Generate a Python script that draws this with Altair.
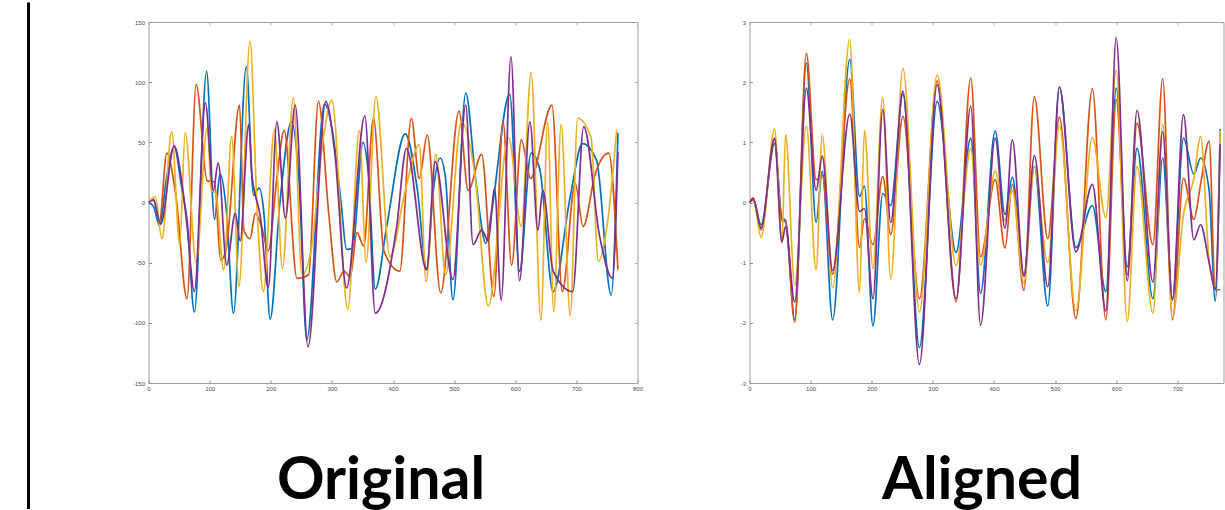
import altair as alt
import pandas as pd

COLORS = ["#0072BD", "#D95319", "#EDB120", "#7E2F8E"]
SERIES = ["s1", "s2", "s3", "s4"]
TITLES = ["Original", "Aligned"]

# ---------------- Original (left) ----------------
o_blue_x = [0, 8, 18, 30, 42, 55, 63, 75, 95, 108, 117, 128, 139, 160, 172, 181, 189, 199, 215, 234, 246, 259, 288, 302, 315, 324, 334, 351, 360, 371, 390, 420, 440, 455, 466, 477, 486, 498, 519, 535, 552, 561, 591, 607, 626, 640, 662, 690, 710, 733, 757, 768]
o_blue_y = [0, -3, -19, 22, 46, 10, -14, -91, 109, -14, 24, -10, -92, 113, 6, 12, -10, -97, 0, 67, 20, -114, 82, 56, 0, -39, -38, 50, 22, -72, -19, 57, 10, -55, 10, 37, 20, -81, 91, 20, -34, -9, 90, -57, 41, 28, -74, 5, 49, 35, -77, 58]

o_orange_x = [0, 8, 18, 30, 45, 63, 78, 96, 108, 118, 127, 149, 156, 166, 175, 185, 196, 210, 222, 243, 262, 278, 295, 308, 320, 330, 341, 352, 368, 385, 411, 430, 443, 456, 478, 508, 523, 545, 565, 580, 594, 610, 625, 660, 677, 698, 711, 731, 753, 768]
o_orange_y = [0, 3, -15, 41, 5, -80, 98, 18, 17, -48, -39, 81, -23, -30, -9, -20, -40, 20, 60, -63, -60, 84, -10, -66, -57, -62, -25, -36, 70, -40, -57, 70, 20, 56, -75, 76, 10, 40, -78, 67, -52, 52, 20, 81, -74, 16, -20, 24, 41, -56]

o_yellow_x = [0, 11, 22, 38, 51, 60, 78, 96, 103, 110, 123, 136, 148, 166, 178, 188, 206, 219, 237, 251, 266, 285, 300, 326, 345, 356, 372, 395, 420, 443, 454, 470, 486, 512, 534, 556, 589, 610, 626, 642, 653, 663, 675, 690, 702, 724, 736, 750, 766]
o_yellow_y = [0, 5, -30, 59, -35, 58, -50, 62, 10, 8, -56, 55, -70, 134, -10, -74, 61, -55, 87, -60, -40, 50, 85, -89, 60, -50, 88, -45, 10, 48, -66, 40, -60, 67, 23, -86, 54, -20, 108, -98, 67, -91, 65, -94, 70, 54, -49, -20, 60]

o_purple_x = [0, 8, 20, 42, 55, 63, 75, 93, 106, 114, 128, 142, 150, 164, 169, 183, 196, 210, 224, 240, 261, 290, 305, 324, 354, 371, 406, 422, 455, 469, 498, 519, 531, 545, 556, 566, 577, 593, 607, 624, 637, 645, 662, 694, 712, 738, 759, 768]
o_purple_y = [0, 2, -18, 47, 15, -19, -74, 83, 10, 33, -52, -9, -32, 65, 24, -12, -71, 67, -13, 81, -120, 84, 40, -71, 72, -92, -20, 45, -56, 34, -64, 81, -35, -23, -32, 12, -81, 121, -65, 67, -23, 10, -57, -74, 63, -28, -63, 42]

# ---------------- Aligned (right) ----------------
a_x = [0, 6, 19, 41, 53, 59, 74, 93, 109, 119, 136, 164, 180, 188, 202, 218, 231, 251, 278, 307, 338, 362, 378, 402, 418, 430, 449, 466, 488, 507, 534, 561, 583, 600, 618, 634, 660, 676, 692, 710, 727, 738, 752, 762, 770]
a_blue_y = [0, 0.06, -0.37, 0.98, -0.25, -0.3, -1.95, 2.32, -0.33, 0.52, -1.95, 2.38, 0.1, 0.27, -2.05, 0.15, -0.05, 1.8, -2.41, 1.68, -0.83, 1.07, -1.51, 1.19, -0.2, 0.42, -1.2, 0.6, -1.72, 1.92, -0.75, -0.05, -1.48, 1.9, -1.07, 0.9, -1.6, 0.74, -1.6, 1.07, 0.47, 0.74, 0.2, -1.64, 1.22]
a_orange_y = [0, 0.04, -0.45, 1.05, -0.3, -0.32, -1.99, 2.48, 0.38, 0.45, -1.19, 2.05, -0.75, -0.27, -0.7, 0.43, -0.53, 1.43, -1.6, 2.02, -1.65, 2.07, -0.9, 0.38, -0.76, 0.3, -1.46, 1.76, -0.6, 1.42, -1.93, 1.89, -1.95, 1.71, -1.2, 1.32, -0.7, 2.06, -1.95, 0.4, -0.28, 0.3, 1.02, -1.45, -1.45]
a_yellow_y = [0, 0.08, -0.58, 1.22, -0.68, 1.13, -1.37, 1.27, -1.12, 1.12, -1.42, 2.71, -1.5, 1.2, -1.1, 1.75, -1.27, 2.23, -1.82, 2.12, -1.05, 0.9, -1.04, 0.52, -0.3, 0.2, -1.34, 0.6, -1.0, 1.28, -1.8, 1.08, -0.25, 2.2, -1.98, 0.6, -1.84, 1.3, -1.92, -0.2, 0.4, 1.1, -0.98, -1.4, 1.2]
a_purple_y = [0, 0.07, -0.42, 1.07, -0.65, -0.4, -1.66, 1.9, 0.2, 0.77, -1.13, 1.47, -0.15, -0.1, -1.6, 1.55, -0.33, 1.85, -2.69, 1.96, -1.6, 1.6, -2.04, 1.07, -0.43, 1.04, -1.23, 0.78, -1.4, 1.92, -0.82, 0.3, -1.8, 2.74, -1.3, 1.53, -1.32, 1.18, -1.62, 1.46, -0.62, -0.37, -1.0, -1.44, 0.97]

O_XTICKS = [0, 100, 200, 300, 400, 500, 600, 700, 800]
O_YTICKS = [-150, -100, -50, 0, 50, 100, 150]
A_XTICKS = [0, 100, 200, 300, 400, 500, 600, 700]
A_YTICKS = [-3, -2, -1, 0, 1, 2, 3]


def frame(parts):
    rows = []
    for name, xs, ys in parts:
        for i, (xv, yv) in enumerate(zip(xs, ys)):
            rows.append({"t": xv, "v": yv, "series": name, "i": i})
    return pd.DataFrame(rows)


orig_df = frame([
    ("s1", o_blue_x, o_blue_y),
    ("s2", o_orange_x, o_orange_y),
    ("s3", o_yellow_x, o_yellow_y),
    ("s4", o_purple_x, o_purple_y),
])
alig_df = frame([
    ("s1", a_x, a_blue_y),
    ("s2", a_x, a_orange_y),
    ("s3", a_x, a_yellow_y),
    ("s4", a_x, a_purple_y),
])

AX_COLOR = "#8c8c8c"
LBL = dict(labelFontSize=6, labelColor="#4d4d4d", labelFont="Liberation Sans")


def panel(df, xdom, ydom, xticks, yticks, w, h, title, rule_opacity, rule_x, with_right):
    xs = alt.Scale(domain=xdom, nice=False, zero=False)
    ys = alt.Scale(domain=ydom, nice=False, zero=False)
    color = alt.Color("series:N", scale=alt.Scale(domain=SERIES, range=COLORS), legend=None)
    lines = alt.Chart(df).mark_line(interpolate="monotone", strokeWidth=1.7, clip=True).encode(
        x=alt.X("t:Q", scale=xs, axis=alt.Axis(orient="bottom", values=xticks, domain=False, grid=False,
                                               tickSize=3, tickColor=AX_COLOR, offset=-3, labelPadding=2,
                                               labelFlush=False, labelExpr="'' + datum.value", title=None, **LBL)),
        y=alt.Y("v:Q", scale=ys, axis=alt.Axis(orient="left", values=yticks, domain=False, grid=False,
                                               tickSize=3, tickColor=AX_COLOR, offset=-3, labelPadding=4,
                                               labelFlush=False, labelExpr="'' + datum.value", title=None, **LBL)),
        color=color,
        order="i:Q",
    )
    yaxis2 = alt.Axis(orient="right", values=yticks, domain=False, grid=False, labels=False,
                      ticks=with_right, tickSize=3, tickColor="#b0b0b0", offset=-3, title=None)
    helper = alt.Chart(df).mark_line(strokeOpacity=0).encode(
        x=alt.X("t:Q", scale=xs, axis=alt.Axis(orient="top", values=xticks, domain=False, grid=False,
                                               labels=False, tickSize=3, tickColor="#b0b0b0", offset=-3,
                                               title=None)),
        y=alt.Y("v:Q", scale=ys, axis=yaxis2),
        detail="series:N",
    )
    tdf = pd.DataFrame({"label": [title]})
    text = alt.Chart(tdf).mark_text(font="Lato", fontWeight="bold", fontSize=59, baseline="bottom",
                                    align="center", color="black").encode(
        x=alt.value(232.5), y=alt.value(489), text="label:N")
    rule = alt.Chart(tdf).mark_rule(color="black", strokeWidth=3, strokeOpacity=rule_opacity).encode(
        x=alt.value(rule_x), y=alt.value(-19.5), y2=alt.value(487))
    return alt.layer(rule, lines, helper, text).properties(width=w, height=h)


left = panel(orig_df, [0, 800], [-150, 150], O_XTICKS, O_YTICKS, 489, 361, TITLES[0], 1, -120, True)
right = panel(alig_df, [0, 775.5], [-3, 3], A_XTICKS, A_YTICKS, 474, 361, TITLES[1], 0, 0, False)

chart = alt.hconcat(left, right, spacing=96).properties(
    padding={"left": 26.5, "top": 0, "right": 0, "bottom": 0},
    background="white",
).configure_view(stroke="#a0a0a0", strokeWidth=1)

chart.save("out.html", embed_options={"renderer": "svg", "actions": False})
